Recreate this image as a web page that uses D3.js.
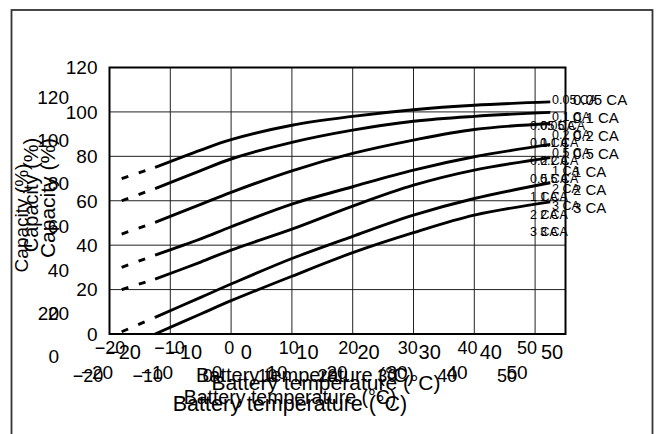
<!DOCTYPE html>
<html>
<head>
<meta charset="utf-8">
<script src="https://cdn.jsdelivr.net/npm/d3@7"></script>
<style>
  html, body { margin: 0; padding: 0; background: #fff; }
  svg { display: block; font-family: "Liberation Sans", Arial, Helvetica, sans-serif; }
</style>
</head>
<body>
<script>
// ---------- data ----------
const xTicks = [-20, -10, 0, 10, 20, 30, 40, 50];
const yTicks = [0, 20, 40, 60, 80, 100, 120];
const yTicksSecond = [20, 40, 60, 80, 100, 120];
const yTicksThird = [0, 20];
const seriesNames = ["0.05 CA", "0.1 CA", "0.2 CA", "0.5 CA", "1 CA", "2 CA", "3 CA"];
const temps = [-12.5, -5, 0, 10, 20, 30, 40, 52.5];
const cap005 = [75, 82.8, 87.5, 94, 98, 101, 103, 104.5];
const cap01  = [65.5, 73.6, 78.8, 86.3, 91.8, 95.8, 98, 99.8];
const cap02  = [50.3, 58.4, 63.8, 73.5, 81.3, 87.3, 92.1, 94.8];
const cap05  = [35.5, 42.8, 48.3, 58.5, 66.3, 73.8, 79.8, 85.4];
const cap1   = [24.7, 32.4, 37.8, 47.2, 57.6, 67, 73.8, 79.4];
const cap2   = [7.5, 16.5, 22.5, 34, 44, 53.5, 61, 68.1];
const cap3   = [0, 9, 15, 26, 36.6, 45.6, 53.5, 59.5];
const dashTemp = -18;
const dashStartValues = [70, 60, 45, 30, 20, 1, null];
const xTitle = "Battery temperature (°C)";
const yTitle = "Capacity (%)";

const seriesValues = [cap005, cap01, cap02, cap05, cap1, cap2, cap3];

// ---------- layout ----------
const W = 661, H = 434;
const svg = d3.select("body").append("svg").attr("width", W).attr("height", H);

// outer frame
svg.append("rect").attr("x", 11.5).attr("y", 10).attr("width", 641).attr("height", 460)
  .attr("fill", "none").attr("stroke", "#333").attr("stroke-width", 1.8);

const x = d3.scaleLinear().domain([-20, 55]).range([109.5, 565.5]);
const y = d3.scaleLinear().domain([0, 120]).range([334, 67.5]);

// grid
const grid = svg.append("g").attr("stroke", "#222").attr("stroke-width", 1);
grid.selectAll("line.v").data(xTicks.filter(d => d > -20)).join("line")
  .attr("x1", d => x(d)).attr("x2", d => x(d)).attr("y1", y(120)).attr("y2", y(0));
grid.selectAll("line.h").data(yTicks.filter(d => d > 0 && d < 120)).join("line")
  .attr("x1", x(-20)).attr("x2", x(55)).attr("y1", d => y(d)).attr("y2", d => y(d));

// plot border
svg.append("rect").attr("x", x(-20)).attr("y", y(120))
  .attr("width", x(55) - x(-20)).attr("height", y(0) - y(120))
  .attr("fill", "none").attr("stroke", "#000").attr("stroke-width", 2);

// curves
const line = d3.line().x(d => x(d[0])).y(d => y(d[1])).curve(d3.curveCatmullRom.alpha(0.5));
const curves = svg.append("g").attr("fill", "none").attr("stroke", "#000")
  .attr("stroke-width", 2.9).attr("stroke-linecap", "butt");
seriesValues.forEach((vals, i) => {
  const pts = temps.map((t, j) => [t, vals[j]]);
  curves.append("path").attr("d", line(pts));
  if (dashStartValues[i] !== null) {
    curves.append("path")
      .attr("d", d3.line().x(d => x(d[0])).y(d => y(d[1]))([[dashTemp, dashStartValues[i]], [temps[0], vals[0]]]))
      .attr("stroke-dasharray", "7 11");
  }
});

const fmt = d3.format("d");

// main y tick labels
svg.append("g").selectAll("text").data(yTicks).join("text")
  .attr("x", 97.5).attr("y", d => y(d)).attr("dy", "0.36em")
  .attr("text-anchor", "end").attr("font-size", 19).text(fmt);

// second y label set
const y2 = d3.scaleLinear().domain([0, 120]).range([356, 97]);
svg.append("g").selectAll("text").data(yTicksSecond).join("text")
  .attr("x", 69).attr("y", d => y2(d)).attr("dy", "0.36em")
  .attr("text-anchor", "end").attr("font-size", 19).text(fmt);
svg.append("g").selectAll("text").data(yTicksThird).join("text")
  .attr("x", 59).attr("y", d => y2(d)).attr("dy", "0.36em")
  .attr("text-anchor", "end").attr("font-size", 19).text(fmt);

// x label rows
const xRows = [
  { scale: d3.scaleLinear().domain([-20, 50]).range([110, 527]), base: 354, size: 18 },
  { scale: d3.scaleLinear().domain([-20, 50]).range([124, 552]), base: 359, size: 20 },
  { scale: d3.scaleLinear().domain([-20, 50]).range([88, 507]), base: 382, size: 18 },
  { scale: d3.scaleLinear().domain([-20, 50]).range([97, 517]), base: 379, size: 19 }
];
xRows.forEach(r => {
  svg.append("g").selectAll("text").data(xTicks).join("text")
    .attr("x", d => r.scale(d)).attr("y", r.base)
    .attr("text-anchor", "middle").attr("font-size", r.size).text(fmt);
});

// x titles
const xTitles = [
  { cx: 305, base: 382, size: 20 },
  { cx: 326, base: 390, size: 21 },
  { cx: 290, base: 411, size: 21.5 },
  { cx: 290, base: 404, size: 19.5 }
];
xTitles.forEach(t => {
  svg.append("text").attr("x", t.cx).attr("y", t.base).attr("text-anchor", "middle")
    .attr("font-size", t.size).text(xTitle);
});

// y titles (rotated)
const yTitles = [
  { bx: 28, cy: 218, size: 19 },
  { bx: 38, cy: 195, size: 20 },
  { bx: 55, cy: 198, size: 21 }
];
yTitles.forEach(t => {
  svg.append("text").attr("transform", `translate(${t.bx},${t.cy}) rotate(-90)`)
    .attr("text-anchor", "middle").attr("font-size", t.size).text(yTitle);
});

// series label sets
const labelSets = [
  { x: 573, y0: 100, step: 18, size: 15 },
  { x: 552, y0: 99, step: 17.8, size: 12.5 },
  { x: 530, y0: 125, step: 17.8, size: 12.5 },
  { x: 540, y0: 125, step: 17.8, size: 12.5 }
];
labelSets.forEach(s => {
  const ly = d3.scaleLinear().domain([0, 1]).range([s.y0, s.y0 + s.step]);
  svg.append("g").selectAll("text").data(seriesNames).join("text")
    .attr("x", s.x).attr("y", (d, i) => ly(i)).attr("dy", "0.36em")
    .attr("font-size", s.size).text(d => d);
});
</script>
</body>
</html>
